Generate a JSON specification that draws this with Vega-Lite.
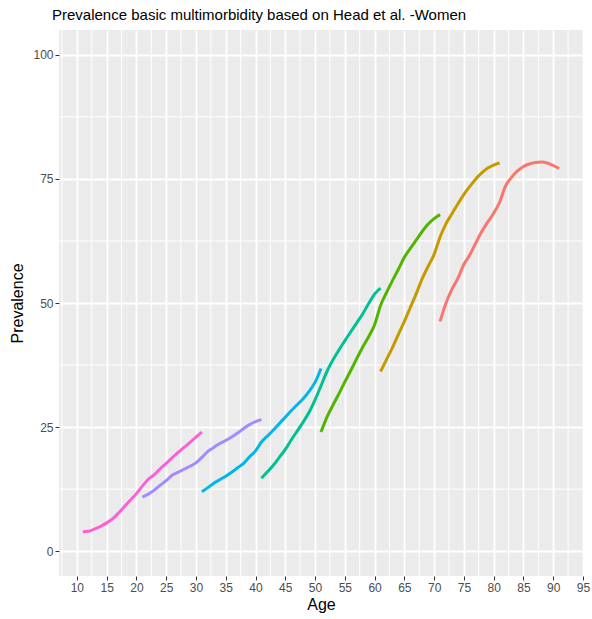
{
  "$schema": "https://vega.github.io/schema/vega-lite/v6.json",
  "width": 524,
  "height": 546,
  "autosize": {"type": "none"},
  "padding": {"left": 59, "top": 30, "right": 9, "bottom": 43},
  "background": "white",
  "title": {
    "text": "Prevalence basic multimorbidity based on Head et al. -Women",
    "anchor": "start",
    "frame": "group",
    "dx": -7,
    "offset": 7,
    "font": "Liberation Sans",
    "fontSize": 15,
    "fontWeight": "normal",
    "color": "#000000"
  },
  "config": {
    "view": {"fill": "#EBEBEB", "stroke": null},
    "axis": {
      "labelFont": "Liberation Sans",
      "labelFontSize": 12,
      "labelColor": "#4D4D4D",
      "titleFont": "Liberation Sans",
      "titleFontSize": 16,
      "titleFontWeight": "normal",
      "titleColor": "#000000",
      "tickColor": "#333333",
      "tickSize": 4,
      "tickWidth": 1,
      "domain": false,
      "gridColor": "#FFFFFF",
      "gridWidth": 1.8,
      "labelPadding": 2
    }
  },
  "datasets": {
    "curves": [
      {"g": "g7", "age": 11, "v": 3.9}, {"g": "g7", "age": 12, "v": 4.0}, {"g": "g7", "age": 13, "v": 4.5}, {"g": "g7", "age": 14, "v": 5.0}, {"g": "g7", "age": 15, "v": 5.7}, {"g": "g7", "age": 16, "v": 6.5}, {"g": "g7", "age": 17, "v": 7.7}, {"g": "g7", "age": 18, "v": 9.0}, {"g": "g7", "age": 19, "v": 10.3}, {"g": "g7", "age": 20, "v": 11.6}, {"g": "g7", "age": 21, "v": 13.1}, {"g": "g7", "age": 22, "v": 14.5}, {"g": "g7", "age": 23, "v": 15.4}, {"g": "g7", "age": 24, "v": 16.6}, {"g": "g7", "age": 25, "v": 17.7}, {"g": "g7", "age": 26, "v": 18.8}, {"g": "g7", "age": 27, "v": 19.9}, {"g": "g7", "age": 28, "v": 20.9}, {"g": "g7", "age": 29, "v": 21.9}, {"g": "g7", "age": 30, "v": 23.0}, {"g": "g7", "age": 31, "v": 24.0},
      {"g": "g6", "age": 21, "v": 10.9}, {"g": "g6", "age": 22, "v": 11.5}, {"g": "g6", "age": 23, "v": 12.3}, {"g": "g6", "age": 24, "v": 13.3}, {"g": "g6", "age": 25, "v": 14.2}, {"g": "g6", "age": 26, "v": 15.3}, {"g": "g6", "age": 27, "v": 15.9}, {"g": "g6", "age": 28, "v": 16.5}, {"g": "g6", "age": 29, "v": 17.1}, {"g": "g6", "age": 30, "v": 17.8}, {"g": "g6", "age": 31, "v": 18.9}, {"g": "g6", "age": 32, "v": 20.1}, {"g": "g6", "age": 33, "v": 20.9}, {"g": "g6", "age": 34, "v": 21.7}, {"g": "g6", "age": 35, "v": 22.3}, {"g": "g6", "age": 36, "v": 23.0}, {"g": "g6", "age": 37, "v": 23.8}, {"g": "g6", "age": 38, "v": 24.7}, {"g": "g6", "age": 39, "v": 25.5}, {"g": "g6", "age": 40, "v": 26.1}, {"g": "g6", "age": 41, "v": 26.5},
      {"g": "g5", "age": 31, "v": 12.0}, {"g": "g5", "age": 32, "v": 12.8}, {"g": "g5", "age": 33, "v": 13.7}, {"g": "g5", "age": 34, "v": 14.4}, {"g": "g5", "age": 35, "v": 15.1}, {"g": "g5", "age": 36, "v": 15.9}, {"g": "g5", "age": 37, "v": 16.8}, {"g": "g5", "age": 38, "v": 17.7}, {"g": "g5", "age": 39, "v": 19.0}, {"g": "g5", "age": 40, "v": 20.2}, {"g": "g5", "age": 41, "v": 22.0}, {"g": "g5", "age": 42, "v": 23.2}, {"g": "g5", "age": 43, "v": 24.4}, {"g": "g5", "age": 44, "v": 25.7}, {"g": "g5", "age": 45, "v": 27.0}, {"g": "g5", "age": 46, "v": 28.3}, {"g": "g5", "age": 47, "v": 29.5}, {"g": "g5", "age": 48, "v": 30.7}, {"g": "g5", "age": 49, "v": 32.2}, {"g": "g5", "age": 50, "v": 34.0}, {"g": "g5", "age": 51, "v": 36.8},
      {"g": "g4", "age": 41, "v": 14.7}, {"g": "g4", "age": 42, "v": 16.0}, {"g": "g4", "age": 43, "v": 17.3}, {"g": "g4", "age": 44, "v": 18.9}, {"g": "g4", "age": 45, "v": 20.5}, {"g": "g4", "age": 46, "v": 22.4}, {"g": "g4", "age": 47, "v": 24.2}, {"g": "g4", "age": 48, "v": 26.0}, {"g": "g4", "age": 49, "v": 28.0}, {"g": "g4", "age": 50, "v": 30.5}, {"g": "g4", "age": 51, "v": 33.3}, {"g": "g4", "age": 52, "v": 36.2}, {"g": "g4", "age": 53, "v": 38.5}, {"g": "g4", "age": 54, "v": 40.5}, {"g": "g4", "age": 55, "v": 42.4}, {"g": "g4", "age": 56, "v": 44.2}, {"g": "g4", "age": 57, "v": 46.0}, {"g": "g4", "age": 58, "v": 47.8}, {"g": "g4", "age": 59, "v": 49.9}, {"g": "g4", "age": 60, "v": 51.8}, {"g": "g4", "age": 61, "v": 53.0},
      {"g": "g3", "age": 51, "v": 24.0}, {"g": "g3", "age": 52, "v": 27.0}, {"g": "g3", "age": 53, "v": 29.4}, {"g": "g3", "age": 54, "v": 31.7}, {"g": "g3", "age": 55, "v": 34.1}, {"g": "g3", "age": 56, "v": 36.4}, {"g": "g3", "age": 57, "v": 38.8}, {"g": "g3", "age": 58, "v": 41.1}, {"g": "g3", "age": 59, "v": 43.2}, {"g": "g3", "age": 60, "v": 45.6}, {"g": "g3", "age": 61, "v": 49.5}, {"g": "g3", "age": 62, "v": 52.1}, {"g": "g3", "age": 63, "v": 54.5}, {"g": "g3", "age": 64, "v": 56.8}, {"g": "g3", "age": 65, "v": 59.2}, {"g": "g3", "age": 66, "v": 61.0}, {"g": "g3", "age": 67, "v": 62.7}, {"g": "g3", "age": 68, "v": 64.4}, {"g": "g3", "age": 69, "v": 65.9}, {"g": "g3", "age": 70, "v": 67.0}, {"g": "g3", "age": 71, "v": 67.8},
      {"g": "g2", "age": 61, "v": 36.2}, {"g": "g2", "age": 62, "v": 38.6}, {"g": "g2", "age": 63, "v": 41.0}, {"g": "g2", "age": 64, "v": 43.7}, {"g": "g2", "age": 65, "v": 46.3}, {"g": "g2", "age": 66, "v": 49.1}, {"g": "g2", "age": 67, "v": 51.9}, {"g": "g2", "age": 68, "v": 54.9}, {"g": "g2", "age": 69, "v": 57.4}, {"g": "g2", "age": 70, "v": 59.8}, {"g": "g2", "age": 71, "v": 63.3}, {"g": "g2", "age": 72, "v": 66.0}, {"g": "g2", "age": 73, "v": 68.0}, {"g": "g2", "age": 74, "v": 70.0}, {"g": "g2", "age": 75, "v": 71.9}, {"g": "g2", "age": 76, "v": 73.5}, {"g": "g2", "age": 77, "v": 75.0}, {"g": "g2", "age": 78, "v": 76.2}, {"g": "g2", "age": 79, "v": 77.2}, {"g": "g2", "age": 80, "v": 77.8}, {"g": "g2", "age": 81, "v": 78.2},
      {"g": "g1", "age": 71, "v": 46.3}, {"g": "g1", "age": 72, "v": 50.0}, {"g": "g1", "age": 73, "v": 52.8}, {"g": "g1", "age": 74, "v": 55.0}, {"g": "g1", "age": 75, "v": 57.8}, {"g": "g1", "age": 76, "v": 59.7}, {"g": "g1", "age": 77, "v": 62.1}, {"g": "g1", "age": 78, "v": 64.4}, {"g": "g1", "age": 79, "v": 66.3}, {"g": "g1", "age": 80, "v": 68.1}, {"g": "g1", "age": 81, "v": 70.3}, {"g": "g1", "age": 82, "v": 73.6}, {"g": "g1", "age": 83, "v": 75.3}, {"g": "g1", "age": 84, "v": 76.6}, {"g": "g1", "age": 85, "v": 77.5}, {"g": "g1", "age": 86, "v": 78.0}, {"g": "g1", "age": 87, "v": 78.3}, {"g": "g1", "age": 88, "v": 78.4}, {"g": "g1", "age": 89, "v": 78.2}, {"g": "g1", "age": 90, "v": 77.7}, {"g": "g1", "age": 91, "v": 77.1}
    ],
    "minorx": [
      {"x": 7.5}, {"x": 12.5}, {"x": 17.5}, {"x": 22.5}, {"x": 27.5}, {"x": 32.5}, {"x": 37.5}, {"x": 42.5}, {"x": 47.5}, {"x": 52.5}, {"x": 57.5}, {"x": 62.5}, {"x": 67.5}, {"x": 72.5}, {"x": 77.5}, {"x": 82.5}, {"x": 87.5}, {"x": 92.5}
    ],
    "minory": [
      {"y": 12.5}, {"y": 37.5}, {"y": 62.5}, {"y": 87.5}
    ]
  },
  "layer": [
    {
      "data": {"name": "minorx"},
      "mark": {"type": "rule", "color": "#FFFFFF", "strokeWidth": 1},
      "encoding": {
        "x": {
          "field": "x", "type": "quantitative",
          "scale": {"domain": [7, 95], "nice": false, "zero": false},
          "axis": {"title": "Age", "values": [10, 15, 20, 25, 30, 35, 40, 45, 50, 55, 60, 65, 70, 75, 80, 85, 90, 95], "titlePadding": 3, "labelFlush": false}
        }
      }
    },
    {
      "data": {"name": "minory"},
      "mark": {"type": "rule", "color": "#FFFFFF", "strokeWidth": 1},
      "encoding": {
        "y": {
          "field": "y", "type": "quantitative",
          "scale": {"domain": [-5, 105], "nice": false, "zero": false},
          "axis": {"title": "Prevalence", "values": [0, 25, 50, 75, 100], "titlePadding": 7}
        }
      }
    },
    {
      "data": {"name": "curves"},
      "mark": {"type": "line", "strokeWidth": 3, "interpolate": "monotone"},
      "encoding": {
        "x": {
          "field": "age", "type": "quantitative",
          "scale": {"domain": [7, 95], "nice": false, "zero": false},
          "axis": {"title": "Age", "values": [10, 15, 20, 25, 30, 35, 40, 45, 50, 55, 60, 65, 70, 75, 80, 85, 90, 95], "titlePadding": 3, "labelFlush": false}
        },
        "y": {
          "field": "v", "type": "quantitative",
          "scale": {"domain": [-5, 105], "nice": false, "zero": false},
          "axis": {"title": "Prevalence", "values": [0, 25, 50, 75, 100], "titlePadding": 7}
        },
        "color": {
          "field": "g", "type": "nominal",
          "scale": {"domain": ["g1", "g2", "g3", "g4", "g5", "g6", "g7"], "range": ["#F8766D", "#C49A00", "#53B400", "#00C094", "#00B6EB", "#A58AFF", "#FB61D7"]},
          "legend": null
        }
      }
    }
  ]
}
